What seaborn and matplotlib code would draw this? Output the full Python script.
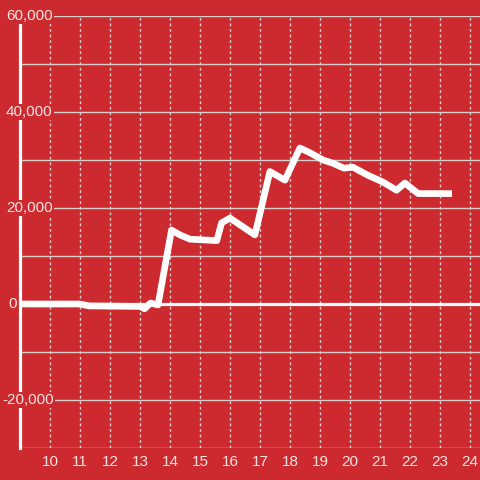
import pandas as pd
import matplotlib.pyplot as plt
import matplotlib.transforms as mtransforms
import seaborn as sns

# values
hours = [9.0, 11.0, 11.3, 13.0, 13.15, 13.35, 13.6, 14.05, 14.33, 14.67, 15.56,
         15.72, 16.0, 16.83, 17.33, 17.83, 18.33, 18.67, 19.1, 19.4, 19.8, 20.1,
         20.57, 21.1, 21.55, 21.83, 22.27, 23.4]
values = [0, 0, -400, -500, -1000, 200, -200, 15400, 14400, 13500, 13200,
          16900, 17900, 14400, 27600, 25800, 32500, 31500, 30000, 29400, 28300, 28500,
          26900, 25400, 23700, 25200, 23000, 23000]
x_ticks = list(range(10, 25))
y_labels = [60000, 40000, 20000, 0, -20000]

bg = '#cd2a2f'
fg = '#f7e4e4'
grid = '#d9cccc'

df = pd.DataFrame({'hour': hours, 'value': values})

sns.set_style('white')
plt.rcParams['font.family'] = ['Liberation Sans', 'DejaVu Sans']

fig = plt.figure(figsize=(4.8, 4.8), dpi=100, facecolor=bg)
ax = fig.add_axes([20 / 480, 32 / 480, 460 / 480, 432 / 480])
ax.set_facecolor(bg)

ax.set_xlim(9, 9 + 460 / 30)
ax.set_ylim(-30000, 60000)

# grid
for y in range(-30000, 60001, 10000):
    ax.axhline(y, color=grid, lw=1, zorder=1)
for x in x_ticks:
    ax.axvline(x, color=grid, lw=1, ls=(0, (2, 2)), zorder=1)
ax.axhline(0, color='white', lw=2.3, zorder=2)

sns.lineplot(data=df, x='hour', y='value', ax=ax, color='white', lw=4.8,
             zorder=3, solid_joinstyle='round', solid_capstyle='butt')

for s in ['top', 'right', 'bottom']:
    ax.spines[s].set_visible(False)
ax.spines['left'].set_color('white')
ax.spines['left'].set_linewidth(2.3)
ax.spines['left'].set_zorder(4)

ax.set_xticks(x_ticks)
ax.set_xticklabels([str(t) for t in x_ticks], color=fg, fontsize=11)
ax.tick_params(axis='x', length=0, pad=5)
ax.set_yticks([])
ax.set_xlabel('')
ax.set_ylabel('')

trans = mtransforms.blended_transform_factory(fig.transFigure, ax.transData)
for v in y_labels:
    lx = 8 / 480 if v == 0 else (2 / 480 if v < 0 else 6 / 480)
    ax.text(lx, v, f'{v:,}', transform=trans, ha='left', va='center',
            color=fg, fontsize=11, zorder=6, clip_on=False,
            bbox=dict(facecolor=bg, edgecolor='none', pad=1))

fig.savefig('out.png', dpi=100, facecolor=bg)
